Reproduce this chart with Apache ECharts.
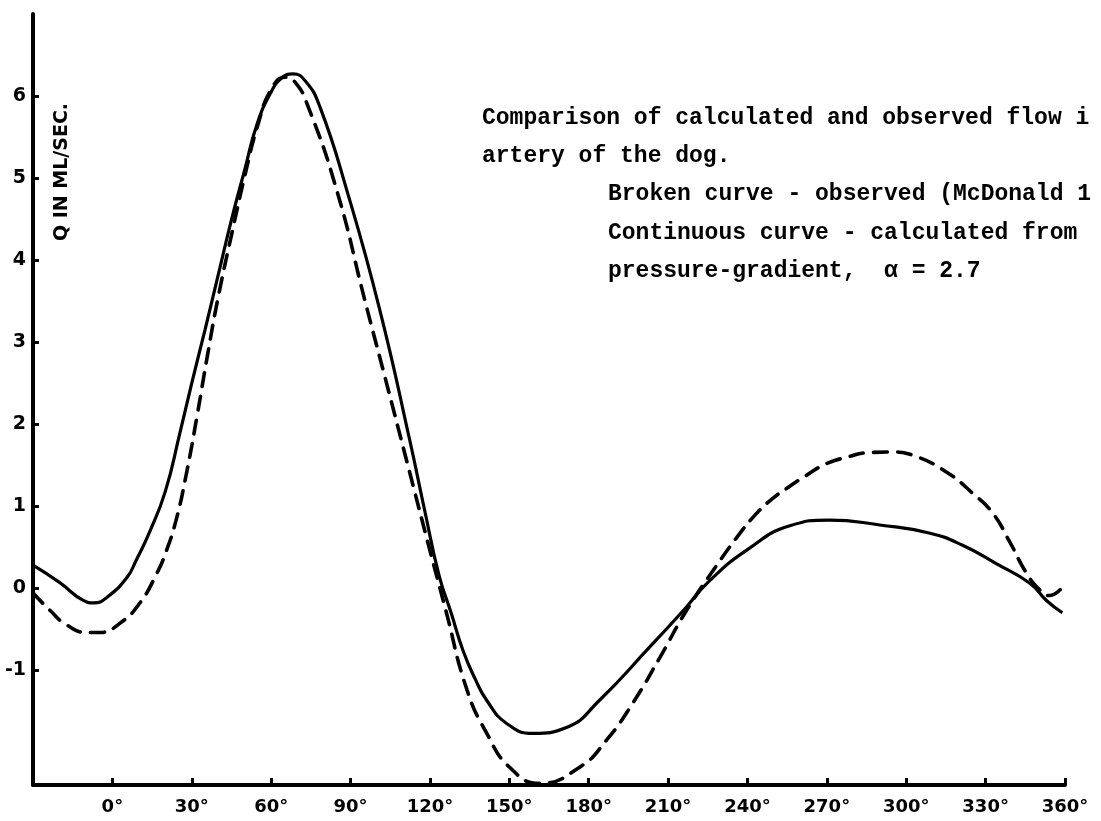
<!DOCTYPE html>
<html>
<head>
<meta charset="utf-8">
<script src="https://cdn.jsdelivr.net/npm/echarts@6/dist/echarts.min.js"></script>
<style>
html,body{margin:0;padding:0;background:#fff;}
#chart{width:1101px;height:821px;}
</style>
</head>
<body>
<div id="chart"></div>
<script>
// Continuous curve: calculated flow (phase angle in degrees, Q in ml/sec)
const calcX = [-30, -20, -11, -7, -2, 5.5, 9, 14, 20, 25.5, 30, 35, 40, 45, 50, 54.6, 60, 64, 68.2, 73, 78.4, 88.6, 101, 112.4, 118, 123.5, 128, 132.5, 137, 141.5, 149, 159, 171.6, 184, 203, 215, 226, 240, 256, 271, 290, 309, 321.5, 334, 346.7, 353, 359];
const calcY = [0.28, 0.07, -0.15, -0.18, -0.11, 0.13, 0.34, 0.68, 1.18, 1.89, 2.5, 3.15, 3.82, 4.49, 5.1, 5.65, 6.05, 6.22, 6.27, 6.18, 5.87, 4.85, 3.4, 1.8, 0.95, 0.15, -0.3, -0.76, -1.1, -1.37, -1.65, -1.77, -1.7, -1.37, -0.72, -0.3, 0.1, 0.47, 0.76, 0.83, 0.77, 0.67, 0.52, 0.3, 0.06, -0.15, -0.3];

// Broken curve: observed flow (McDonald)
const obsX = [-30, -23.6, -17.2, -9.6, -4.7, 2.8, 10.4, 16.8, 20, 24, 28, 32, 36, 40, 46, 50, 55, 60, 65.2, 69, 73.5, 84.8, 95.4, 104, 113, 120, 126, 134, 141.5, 150, 161.5, 176.7, 186.8, 196.7, 207, 217, 228, 236, 242, 249, 255, 262, 270, 278, 285, 295, 302.5, 315, 325, 332.8, 339, 345.5, 350.4, 354, 359.5];
const obsY = [-0.06, -0.27, -0.45, -0.54, -0.54, -0.43, -0.18, 0.18, 0.42, 0.82, 1.4, 2.1, 2.85, 3.55, 4.45, 5.02, 5.65, 6.08, 6.23, 6.17, 5.91, 4.85, 3.51, 2.45, 1.33, 0.46, -0.27, -1.24, -1.77, -2.18, -2.38, -2.18, -1.85, -1.4, -0.84, -0.27, 0.26, 0.62, 0.86, 1.08, 1.22, 1.37, 1.52, 1.6, 1.65, 1.66, 1.62, 1.42, 1.16, 0.91, 0.57, 0.18, -0.02, -0.09, 0.03];

const xTicks = [0, 30, 60, 90, 120, 150, 180, 210, 240, 270, 300, 330, 360];
const yTicks = [-1, 0, 1, 2, 3, 4, 5, 6];

const yAxisTitle = 'Q IN ML/SEC.';
const noteLines = [
  'Comparison of calculated and observed flow i',
  'artery of the dog.',
  'Broken curve - observed (McDonald 1',
  'Continuous curve - calculated from',
  'pressure-gradient,  \u03b1 = 2.7'
];

const calcData = calcX.map((x, i) => [x, calcY[i]]);
const obsData = obsX.map((x, i) => [x, obsY[i]]);

const chart = echarts.init(document.getElementById('chart'), null, {renderer: 'canvas'});
const mono = '"Liberation Mono", "DejaVu Sans Mono", monospace';
const sans = '"DejaVu Sans", sans-serif';

const option = {
  backgroundColor: '#ffffff',
  animation: false,
  grid: {left: 33, right: 36, top: 14, bottom: 36, containLabel: false},
  xAxis: {
    type: 'value', min: -30, max: 360,
    axisLine: {show: true, onZero: false, lineStyle: {color: '#000', width: 4}},
    axisTick: {show: true, inside: true, length: 7, customValues: xTicks, lineStyle: {color: '#000', width: 3}},
    axisLabel: {show: true, customValues: xTicks, margin: 13, color: '#000', fontFamily: sans, fontWeight: 'bold', fontSize: 18,
      formatter: v => v + '\u00b0'},
    splitLine: {show: false}
  },
  yAxis: {
    type: 'value', min: -2.4, max: 7,
    axisLine: {show: true, onZero: false, lineStyle: {color: '#000', width: 4}},
    axisTick: {show: true, inside: true, length: 6, customValues: yTicks, lineStyle: {color: '#000', width: 3}},
    axisLabel: {show: true, customValues: yTicks, margin: 7, color: '#000', fontFamily: sans, fontWeight: 'bold', fontSize: 19},
    splitLine: {show: false}
  },
  series: [
    {
      name: 'calculated', type: 'line', data: calcData, smooth: 0.5, symbol: 'none',
      lineStyle: {color: '#000', width: 3.2}
    },
    {
      name: 'observed', type: 'line', data: obsData, smooth: 0.5, symbol: 'none',
      lineStyle: {color: '#000', width: 3.6, type: [14, 10], cap: 'round'}
    }
  ],
  graphic: [
    {type: 'text', x: 62, y: 172, rotation: Math.PI / 2,
      style: {text: yAxisTitle, fill: '#000', font: 'bold 19px ' + sans, textAlign: 'center', textVerticalAlign: 'middle'}},
    {type: 'text', x: 482, y: 118, style: {text: noteLines[0], fill: '#000', font: 'bold 23px ' + mono, textVerticalAlign: 'middle'}},
    {type: 'text', x: 482, y: 156, style: {text: noteLines[1], fill: '#000', font: 'bold 23px ' + mono, textVerticalAlign: 'middle'}},
    {type: 'text', x: 608, y: 194, style: {text: noteLines[2], fill: '#000', font: 'bold 23px ' + mono, textVerticalAlign: 'middle'}},
    {type: 'text', x: 608, y: 233, style: {text: noteLines[3], fill: '#000', font: 'bold 23px ' + mono, textVerticalAlign: 'middle'}},
    {type: 'text', x: 608, y: 271, style: {text: noteLines[4], fill: '#000', font: 'bold 23px ' + mono, textVerticalAlign: 'middle'}}
  ]
};
chart.setOption(option);
</script>
</body>
</html>
